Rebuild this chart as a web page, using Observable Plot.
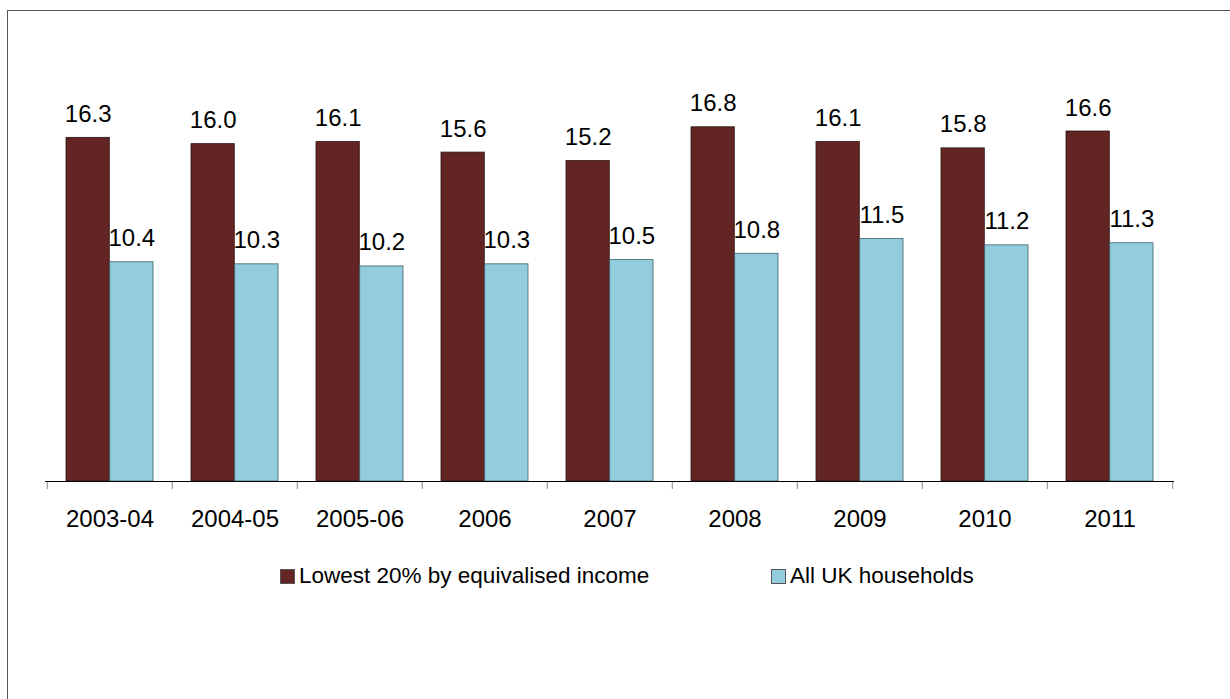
<!DOCTYPE html>
<html>
<head>
<meta charset="utf-8">
<script src="https://cdn.jsdelivr.net/npm/d3@7"></script>
<script src="https://cdn.jsdelivr.net/npm/@observablehq/plot@0.6"></script>
<style>
  html, body { margin: 0; padding: 0; background: #fff; overflow: hidden; }
  #wrap { position: relative; width: 1230px; height: 699px; overflow: hidden; font-family: Arial, "Liberation Sans", sans-serif; }
  #frame { position: absolute; left: 7px; top: 10px; width: 1400px; height: 800px; border-left: 1.5px solid #555; border-top: 1.5px solid #555; box-sizing: border-box; }
  #chart { position: absolute; left: 0; top: 0; }
  #legend { position: absolute; left: 0; top: 563px; width: 1230px; height: 30px; font-size: 22.5px; color: #000; }
  .item { position: absolute; top: 0; display: flex; align-items: center; white-space: nowrap; }
  .sw { width: 13px; height: 13px; border: 1px solid #555; margin-right: 4px; }
</style>
</head>
<body>
<div id="wrap">
  <div id="frame"></div>
  <div id="chart"></div>
  <div id="legend"></div>
</div>
<script>
const years = ["2003-04", "2004-05", "2005-06", "2006", "2007", "2008", "2009", "2010", "2011"];
const lowest20 = [16.3, 16.0, 16.1, 15.6, 15.2, 16.8, 16.1, 15.8, 16.6];
const allUK = [10.4, 10.3, 10.2, 10.3, 10.5, 10.8, 11.5, 11.2, 11.3];
const seriesNames = ["Lowest 20% by equivalised income", "All UK households"];
const colors = ["#632523", "#93CDDD"];
const strokes = ["#2a1010", "#3d5f6a"];

const W = 1230, H = 545;
const mL = 45, mR = 56, mT = 101.5, mB = 64;
const bw = (W - mL - mR) / years.length;
const outer = 19;
const barW = (bw - 2 * outer) / 2;

const rowsA = years.map((y, i) => ({year: y, value: lowest20[i]}));
const rowsB = years.map((y, i) => ({year: y, value: allUK[i]}));

const plot = Plot.plot({
  width: W,
  height: H,
  marginLeft: mL,
  marginRight: mR,
  marginTop: mT,
  marginBottom: mB,
  style: {background: "transparent", fontFamily: "Arial, 'Liberation Sans', sans-serif", color: "#000"},
  x: {type: "band", domain: years, padding: 0, label: null},
  y: {domain: [0, 18], axis: null},
  marks: [
    Plot.barY(rowsA, {x: "year", y: "value", fill: colors[0], stroke: strokes[0], strokeWidth: 0.8,
      insetLeft: outer, insetRight: bw - outer - barW}),
    Plot.barY(rowsB, {x: "year", y: "value", fill: colors[1], stroke: strokes[1], strokeWidth: 0.8,
      insetLeft: outer + barW, insetRight: outer}),
    Plot.text(rowsA, {x: "year", y: "value", text: d => d.value.toFixed(1), dx: -barW / 2, dy: -16,
      lineAnchor: "bottom", fontSize: 24, fill: "#000"}),
    Plot.text(rowsB, {x: "year", y: "value", text: d => d.value.toFixed(1), dx: barW / 2, dy: -16,
      lineAnchor: "bottom", fontSize: 24, fill: "#000"}),
    Plot.ruleX(years, {x: d => d, dx: -bw / 2, insetTop: H - mT - mB, insetBottom: -8, stroke: "#888"}),
    Plot.ruleX([years[years.length - 1]], {x: d => d, dx: bw / 2, insetTop: H - mT - mB, insetBottom: -8, stroke: "#888"}),
    Plot.ruleY([0], {stroke: "#000", strokeWidth: 1}),
    Plot.axisX({tickSize: 0, tickPadding: 28, fontSize: 24, label: null})
  ]
});
document.getElementById("chart").appendChild(plot);

const legend = document.getElementById("legend");
const legendX = [280, 771];
seriesNames.forEach((name, i) => {
  const item = document.createElement("div");
  item.className = "item";
  item.style.left = legendX[i] + "px";
  const sw = document.createElement("div");
  sw.className = "sw";
  sw.style.background = colors[i];
  const t = document.createElement("span");
  t.textContent = name;
  item.appendChild(sw);
  item.appendChild(t);
  legend.appendChild(item);
});
</script>
</body>
</html>
